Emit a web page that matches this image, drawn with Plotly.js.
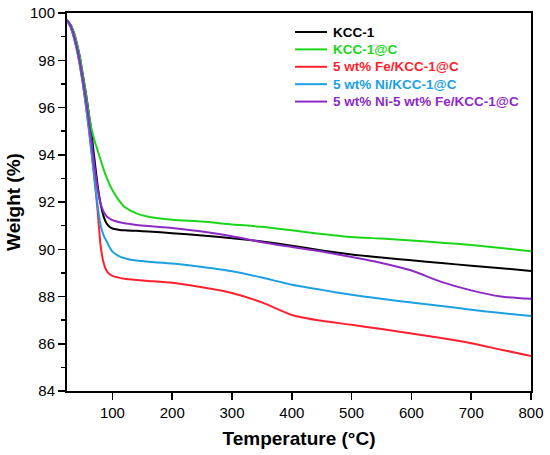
<!DOCTYPE html>
<html>
<head>
<meta charset="utf-8">
<script src="https://cdn.plot.ly/plotly-3.0.1.min.js"></script>
<style>html,body{margin:0;padding:0;background:#fff;}#chart{width:550px;height:455px;}</style>
</head>
<body>
<div id="chart"></div>
<script>
const temperature = [24,30,35,40,45,50,55,60,65,70,75,80,85,90,95,100,110,120,140,160,200,250,300,350,400,450,500,550,600,650,700,750,800];

const kcc1 = [99.7,99.5,99.2,98.75,98.2,97.45,96.7,95.85,94.9,93.8,92.75,91.95,91.4,91.1,90.95,90.88,90.83,90.8,90.78,90.75,90.68,90.58,90.47,90.33,90.15,89.95,89.78,89.65,89.53,89.42,89.3,89.2,89.08];
const kcc1C = [99.7,99.5,99.2,98.75,98.2,97.45,96.7,95.8,95.1,94.6,94.2,93.8,93.4,93.05,92.75,92.5,92.1,91.8,91.52,91.38,91.25,91.17,91.05,90.95,90.8,90.65,90.52,90.45,90.37,90.28,90.18,90.05,89.92];
const feKcc = [99.7,99.4,99.0,98.5,97.85,97.1,96.2,95.2,94.1,92.95,91.7,90.2,89.45,89.1,88.95,88.87,88.8,88.75,88.7,88.66,88.58,88.39,88.15,87.75,87.22,86.97,86.8,86.62,86.43,86.24,86.02,85.75,85.48];
const niKcc = [99.7,99.4,99.0,98.5,97.85,97.1,96.2,95.2,94.1,93.0,91.9,91.05,90.6,90.35,90.1,89.9,89.72,89.62,89.52,89.47,89.4,89.25,89.07,88.8,88.5,88.28,88.07,87.9,87.75,87.6,87.44,87.3,87.17];
const niFeKcc = [99.7,99.45,99.1,98.6,98.0,97.25,96.45,95.55,94.55,93.5,92.6,91.95,91.6,91.4,91.3,91.23,91.15,91.1,91.03,90.98,90.9,90.75,90.55,90.3,90.1,89.9,89.67,89.42,89.1,88.62,88.26,88.0,87.9];

const seriesNames = ['KCC-1','KCC-1@C','5 wt% Fe/KCC-1@C','5 wt% Ni/KCC-1@C','5 wt% Ni-5 wt% Fe/KCC-1@C'];
const seriesColors = ['#000000','#1ad61a','#ff1f2f','#1ba1e2','#8c2bc4'];
const seriesValues = [kcc1, kcc1C, feKcc, niKcc, niFeKcc];

const xTicks = [100,200,300,400,500,600,700,800];
const yTicks = [84,86,88,90,92,94,96,98,100];

const traces = seriesValues.map((vals, i) => ({
  x: temperature,
  y: vals,
  type: 'scatter',
  mode: 'lines',
  name: seriesNames[i],
  showlegend: false,
  line: {color: seriesColors[i], width: 2, shape: 'spline', smoothing: 0.6}
}));

const font = 'Arial, "Liberation Sans", sans-serif';

// Legend drawn as layout shapes + annotations (paper coordinates)
const legTop = 0.9497, legStep = 0.046;
const legLineX0 = 0.4914, legLineX1 = 0.5603, legTextX = 0.569;
const legendShapes = seriesNames.map((n, i) => ({
  type: 'line', xref: 'paper', yref: 'paper',
  x0: legLineX0, x1: legLineX1, y0: legTop - i * legStep, y1: legTop - i * legStep,
  line: {color: seriesColors[i], width: 2}
}));
const legendAnnotations = seriesNames.map((n, i) => ({
  xref: 'paper', yref: 'paper', x: legTextX, y: legTop - i * legStep,
  xanchor: 'left', yanchor: 'middle', showarrow: false,
  text: '<b>' + n + '</b>',
  font: {family: font, size: 13.5, color: seriesColors[i]}
}));

const layout = {
  width: 550, height: 455,
  margin: {l: 67, r: 19, t: 13, b: 64},
  paper_bgcolor: '#fff', plot_bgcolor: '#fff',
  font: {family: font, color: '#000', size: 15},
  showlegend: false,
  shapes: legendShapes,
  annotations: legendAnnotations,
  xaxis: {
    range: [24, 800],
    tickvals: xTicks,
    ticktext: xTicks.map(String),
    ticks: 'outside', ticklen: 7, tickwidth: 1.5, tickcolor: '#000',
    showline: true, linewidth: 2, linecolor: '#000', mirror: true,
    showgrid: false, zeroline: false,
    tickfont: {family: font, size: 15},
    title: {text: '<b>Temperature (°C)</b>', font: {family: font, size: 19}, standoff: 12}
  },
  yaxis: {
    range: [84, 100],
    tickvals: yTicks,
    ticktext: yTicks.map(String),
    ticks: 'outside', ticklen: 7, tickwidth: 1.5, tickcolor: '#000',
    minor: {dtick: 1, tick0: 84, ticks: 'outside', ticklen: 4, tickwidth: 1.5, tickcolor: '#000', showgrid: false},
    showline: true, linewidth: 2, linecolor: '#000', mirror: true,
    showgrid: false, zeroline: false,
    tickfont: {family: font, size: 15},
    title: {text: '<b>Weight (%)</b>', font: {family: font, size: 19}, standoff: 4}
  }
};

Plotly.newPlot('chart', traces, layout, {displayModeBar: false, staticPlot: true});
</script>
</body>
</html>
